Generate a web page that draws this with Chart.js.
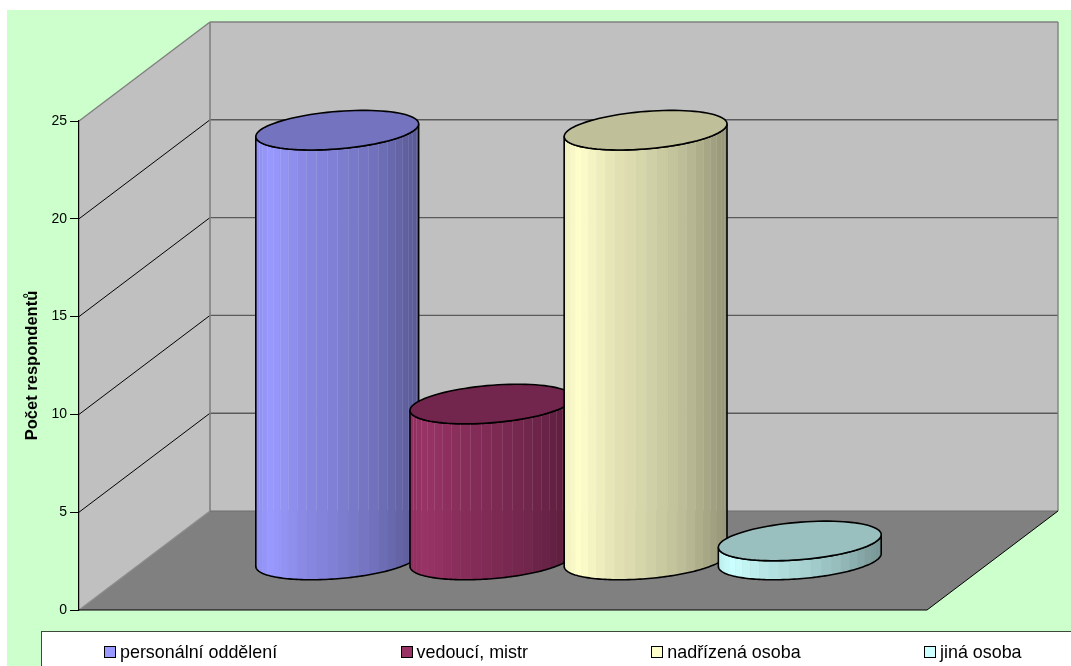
<!DOCTYPE html>
<html lang="cs">
<head>
<meta charset="utf-8">
<title>Počet respondentů</title>
<script src="https://cdn.jsdelivr.net/npm/chart.js@4"></script>
<style>
  html, body { margin: 0; padding: 0; background: #fff; overflow: hidden; }
  canvas { display: block; }
</style>
</head>
<body>
<canvas id="chart" width="1071" height="666"></canvas>
<script>
// One category, four series, drawn as clustered cylinders.
const categories = ['Kdo'];
const seriesNames = ['personální oddělení', 'vedoucí, mistr', 'nadřízená osoba', 'jiná osoba'];
const seriesValues = [22, 8, 22, 1];
const seriesColors = [[153, 153, 255], [153, 51, 102], [255, 255, 204], [204, 255, 255]];
const yTicks = [0, 5, 10, 15, 20, 25];
const yTitle = 'Počet respondentů';

const FONT = '"Liberation Sans", Arial, sans-serif';
const DEPTH = { x: 131, y: -99 };      // oblique offset of the back wall
const DISC = 0.2;                      // disc depth as a share of the floor depth
const FACETS = 24;
// Lighting across a cylinder, left edge to right edge.
const SHADE = [[0, .93], [.09, 1], [.3, .89], [.5, .83], [.75, .73], [1, .58]];

function shadeAt(f) {
  for (let i = 1; i < SHADE.length; i++) {
    if (f <= SHADE[i][0]) {
      const [a, va] = SHADE[i - 1], [b, vb] = SHADE[i];
      return va + (vb - va) * (f - a) / (b - a);
    }
  }
  return SHADE[SHADE.length - 1][1];
}
const rgb = (c, k) => `rgb(${c.map(v => Math.round(v * k)).join(',')})`;

function poly(ctx, pts, fill, stroke, lw) {
  ctx.beginPath();
  pts.forEach((p, i) => i ? ctx.lineTo(p[0], p[1]) : ctx.moveTo(p[0], p[1]));
  ctx.closePath();
  if (fill) { ctx.fillStyle = fill; ctx.fill(); }
  if (stroke) { ctx.strokeStyle = stroke; ctx.lineWidth = lw; ctx.stroke(); }
}
function seg(ctx, x1, y1, x2, y2, color, lw) {
  ctx.beginPath();
  ctx.moveTo(x1, y1);
  ctx.lineTo(x2, y2);
  ctx.strokeStyle = color;
  ctx.lineWidth = lw;
  ctx.stroke();
}

// Background, box walls, floor and the gridlines on the walls.
function drawRoom(chart) {
  const { ctx, chartArea: a, scales: { y } } = chart;
  const dx = DEPTH.x, dy = DEPTH.y;
  ctx.save();
  ctx.fillStyle = '#fff';
  ctx.fillRect(0, 0, chart.width, chart.height);
  ctx.fillStyle = '#CCFFCC';
  ctx.fillRect(7, 10, chart.width - 7, chart.height - 10);

  poly(ctx, [[a.left, a.bottom], [a.left, a.top], [a.left + dx, a.top + dy], [a.left + dx, a.bottom + dy]], '#C0C0C0');
  poly(ctx, [[a.left + dx, a.top + dy], [a.right + dx, a.top + dy], [a.right + dx, a.bottom + dy], [a.left + dx, a.bottom + dy]], '#C0C0C0');
  poly(ctx, [[a.left, a.bottom], [a.right, a.bottom], [a.right + dx, a.bottom + dy], [a.left + dx, a.bottom + dy]], '#808080');

  yTicks.forEach(v => {
    if (v === 0) return;
    const py = y.getPixelForValue(v);
    if (v < 25) seg(ctx, a.left + dx, py + dy, a.right + dx, py + dy, '#5a5a5a', 1.4);
    seg(ctx, a.left, py, a.left + dx, py + dy, v === 25 ? '#808080' : '#000', v === 25 ? 1.4 : 1);
  });
  // wall edges
  seg(ctx, a.left + dx, a.top + dy, a.right + dx, a.top + dy, '#808080', 1.6);
  seg(ctx, a.left + dx, a.top + dy, a.left + dx, a.bottom + dy, '#808080', 1.6);
  seg(ctx, a.right + dx, a.top + dy, a.right + dx, a.bottom + dy, '#808080', 1.4);
  seg(ctx, a.left, a.bottom, a.left + dx, a.bottom + dy, '#8c8c8c', 1.2);
  seg(ctx, a.left + dx, a.bottom + dy, a.right + dx, a.bottom + dy, '#6e6e6e', 1);
  seg(ctx, a.left, a.bottom, a.right, a.bottom, '#000', 1.2);
  seg(ctx, a.right, a.bottom, a.right + dx, a.bottom + dy, '#000', 1);
  ctx.restore();
}

// Turns a bar element into a cylinder standing mid-way back on the floor.
function drawCylinder(ctx, bar, color) {
  const r = bar.width / 2;
  const vx = DEPTH.x * DISC, vy = DEPTH.y * DISC;
  const cx = bar.x + DEPTH.x / 2;
  const topY = bar.y + DEPTH.y / 2, baseY = bar.base + DEPTH.y / 2;
  const t0 = Math.atan2(vx, r);
  const half = Math.hypot(r, vx);
  const pt = (cy, t) => [cx + r * Math.cos(t) + vx * Math.sin(t), cy + vy * Math.sin(t)];
  const arc = (cy, from, to) => {
    const out = [];
    for (let i = 0; i <= 90; i++) out.push(pt(cy, from + (to - from) * i / 90));
    return out;
  };
  // lower half of an ellipse runs left tangent -> right tangent
  const lowerBase = arc(baseY, t0 + Math.PI, t0 + 2 * Math.PI);
  const lowerTop = arc(topY, t0 + 2 * Math.PI, t0 + Math.PI);
  const body = lowerBase.concat(lowerTop);

  ctx.save();
  ctx.beginPath();
  body.forEach((p, i) => i ? ctx.lineTo(p[0], p[1]) : ctx.moveTo(p[0], p[1]));
  ctx.closePath();
  ctx.save();
  ctx.clip();
  const left = cx - half;
  const floorBack = bar.base + DEPTH.y;
  let prev = left;
  for (let i = 1; i <= FACETS; i++) {
    const next = cx - half * Math.cos(Math.PI * i / FACETS);
    const f = ((prev + next) / 2 - left) / (2 * half);
    ctx.fillStyle = rgb(color, shadeAt(f));
    ctx.fillRect(prev, topY - 60, next - prev + .6, baseY - topY + 120);
    prev = next;
  }
  // seams between facets, stronger above the back edge of the floor
  for (let i = 2; i < FACETS - 1; i++) {
    const x = Math.round(cx - half * Math.cos(Math.PI * i / FACETS)) + .5;
    seg(ctx, x, topY - 60, x, floorBack, 'rgba(255,255,255,.10)', 1);
    seg(ctx, x, floorBack, x, baseY + 60, 'rgba(255,255,255,.03)', 1);
  }
  ctx.restore();
  ctx.beginPath();
  body.forEach((p, i) => i ? ctx.lineTo(p[0], p[1]) : ctx.moveTo(p[0], p[1]));
  ctx.closePath();
  ctx.strokeStyle = '#000';
  ctx.lineWidth = 1.6;
  ctx.stroke();
  poly(ctx, arc(topY, 0, 2 * Math.PI), rgb(color, .75), '#000', 1.6);
  ctx.restore();
}

// Legend strip along the bottom edge, evenly spaced entries.
function drawLegend(chart) {
  const ctx = chart.ctx;
  ctx.save();
  ctx.fillStyle = '#fff';
  ctx.fillRect(41.5, 631.5, chart.width, chart.height);
  ctx.strokeStyle = '#3c4a3c';
  ctx.lineWidth = 1;
  ctx.strokeRect(41.5, 631.5, chart.width, chart.height);
  ctx.font = '17.9px ' + FONT;
  ctx.textBaseline = 'alphabetic';
  ctx.textAlign = 'left';
  let x = 104.5;
  chart.data.datasets.forEach((ds, i) => {
    const sx = Math.round(x - .5) + .5;
    ctx.fillStyle = rgb(seriesColors[i], 1);
    ctx.fillRect(sx, 646.5, 11, 11);
    ctx.strokeStyle = '#000';
    ctx.strokeRect(sx, 646.5, 11, 11);
    ctx.fillStyle = '#000';
    ctx.fillText(ds.label, x + 15.5, 658);
    x += 15.5 + ctx.measureText(ds.label).width + 123.9;
  });
  ctx.restore();
}

const cylinderPlugin = {
  id: 'cylinders',
  beforeDraw(chart) { drawRoom(chart); drawLegend(chart); },
  // Left to right, so each cylinder overlaps the one before it.
  beforeDatasetsDraw(chart) {
    chart.data.datasets.forEach((ds, i) => {
      chart.getDatasetMeta(i).data.forEach(bar => drawCylinder(chart.ctx, bar, seriesColors[i]));
    });
  },
  beforeDatasetDraw() { return false; }
};

new Chart(document.getElementById('chart'), {
  type: 'bar',
  data: {
    labels: categories,
    datasets: seriesNames.map((label, i) => ({
      label,
      data: [seriesValues[i]],
      backgroundColor: rgb(seriesColors[i], 1)
    }))
  },
  options: {
    responsive: false,
    animation: false,
    events: [],
    layout: { padding: { left: 0, top: 121, right: 144, bottom: 56 } },
    datasets: { bar: { categoryPercentage: 4 / 5.5, barPercentage: 1 } },
    plugins: { legend: { display: false }, title: { display: false }, tooltip: { enabled: false } },
    scales: {
      x: { display: false },
      y: {
        min: 0,
        max: 25,
        afterFit(scale) { scale.width = 79; },
        afterBuildTicks(scale) { scale.ticks = yTicks.map(value => ({ value })); },
        border: { display: true, color: '#000', width: 1.2 },
        grid: { drawOnChartArea: false, drawTicks: true, tickLength: 9, tickColor: '#000', tickWidth: 1 },
        ticks: { color: '#000', padding: 3, font: { family: FONT, size: 14 } },
        title: {
          display: true,
          text: yTitle,
          color: '#000',
          padding: { top: 23, bottom: 0 },
          font: { family: FONT, size: 16.5, weight: 'bold' }
        }
      }
    }
  },
  plugins: [cylinderPlugin]
});
</script>
</body>
</html>
